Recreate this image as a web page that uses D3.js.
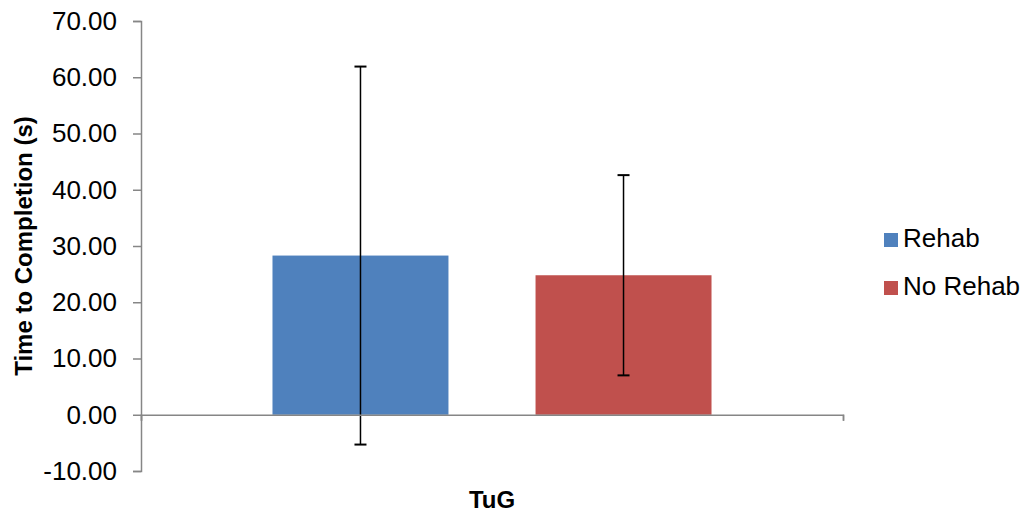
<!DOCTYPE html>
<html>
<head>
<meta charset="utf-8">
<script src="https://cdn.jsdelivr.net/npm/d3@7"></script>
<style>
  body { margin: 0; background: #fff; }
  svg { display: block; font-family: Arial, "Liberation Sans", sans-serif; }
</style>
</head>
<body>
<svg id="chart" width="1027" height="512"></svg>
<script>
const categories = ["TuG"];
const seriesNames = ["Rehab", "No Rehab"];
const seriesColors = ["#4F81BD", "#C0504D"];
const rehabValues = [28.3];
const noRehabValues = [24.8];
const rehabErrors = [33.6];
const noRehabErrors = [17.8];
const yTicks = [-10, 0, 10, 20, 30, 40, 50, 60, 70];

const seriesValues = [rehabValues, noRehabValues];
const seriesErrors = [rehabErrors, noRehabErrors];

const svg = d3.select("#chart");
const plotLeft = 141, plotRight = 843, plotTop = 21, plotBottom = 471;

const y = d3.scaleLinear().domain([-10, 70]).range([plotBottom, plotTop]);
const x0 = d3.scaleBand().domain(categories).range([plotLeft, plotRight]).paddingInner(0).paddingOuter(0.2995);
const x1 = d3.scaleBand().domain(seriesNames).range([0, x0.bandwidth()]).paddingInner(0.331);

const axisColor = "#868686";
const fmt = v => d3.format(".2f")(v).replace("\u2212", "-");

// Y axis
const yAxis = d3.axisLeft(y).tickValues(yTicks).tickSize(8).tickPadding(16).tickFormat(fmt);
const gy = svg.append("g").attr("transform", `translate(${plotLeft},0)`).call(yAxis);
gy.select(".domain").attr("stroke", axisColor).attr("stroke-width", 1.5);
gy.selectAll(".tick line").attr("stroke", axisColor).attr("stroke-width", 1.5);
gy.selectAll(".tick text").attr("font-size", 26).attr("fill", "#000")
  .attr("font-family", "Arial, 'Liberation Sans', sans-serif");

// Bars
const groups = svg.append("g").selectAll("g").data(categories).join("g")
  .attr("transform", d => `translate(${x0(d)},0)`);

seriesNames.forEach((s, si) => {
  groups.append("rect")
    .attr("x", x1(s))
    .attr("width", x1.bandwidth())
    .attr("y", (d, i) => y(Math.max(0, seriesValues[si][i])))
    .attr("height", (d, i) => Math.abs(y(seriesValues[si][i]) - y(0)))
    .attr("fill", seriesColors[si]);
});

// X axis at zero
const xAxisScale = d3.scaleLinear().domain([0, 1]).range([plotLeft, plotRight]);
const gx = svg.append("g").attr("transform", `translate(0,${y(0)})`)
  .call(d3.axisBottom(xAxisScale).tickValues([0, 1]).tickSize(6).tickFormat(""));
gx.select(".domain").attr("stroke", axisColor).attr("stroke-width", 1.5);
gx.selectAll(".tick line").attr("stroke", axisColor).attr("stroke-width", 1.5);

// Error bars
const capHalf = 6;
seriesNames.forEach((s, si) => {
  const eg = groups.append("g");
  eg.each(function(d, i) {
    const cx = x1(s) + x1.bandwidth() / 2;
    const v = seriesValues[si][i], e = seriesErrors[si][i];
    const g = d3.select(this);
    g.append("line").attr("x1", cx).attr("x2", cx).attr("y1", y(v + e)).attr("y2", y(v - e))
      .attr("stroke", "#000").attr("stroke-width", 1.5);
    [v + e, v - e].forEach(t => {
      g.append("line").attr("x1", cx - capHalf).attr("x2", cx + capHalf)
        .attr("y1", y(t)).attr("y2", y(t)).attr("stroke", "#000").attr("stroke-width", 2);
    });
  });
});

// Axis titles
svg.append("text")
  .attr("transform", `translate(32,${(plotTop + plotBottom) / 2}) rotate(-90)`)
  .attr("text-anchor", "middle")
  .attr("font-size", 24).attr("font-weight", "bold")
  .text("Time to Completion (s)");

svg.append("text")
  .attr("x", (plotLeft + plotRight) / 2).attr("y", 508)
  .attr("text-anchor", "middle")
  .attr("font-size", 24).attr("font-weight", "bold")
  .text(categories[0]);

// Legend
const legend = svg.append("g").attr("transform", "translate(884,233)");
seriesNames.forEach((s, i) => {
  const g = legend.append("g").attr("transform", `translate(0,${i * 48})`);
  g.append("rect").attr("width", 14).attr("height", 14).attr("fill", seriesColors[i]);
  g.append("text").attr("x", 19).attr("y", 14).attr("font-size", 26).attr("fill", "#000").text(s);
});
</script>
</body>
</html>
